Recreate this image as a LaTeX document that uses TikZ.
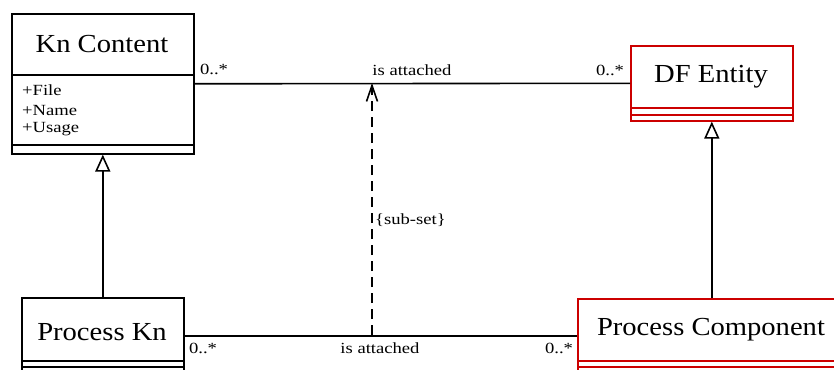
\documentclass[tikz,border=0pt]{standalone}
\usepackage{fontspec}
\setmainfont{Liberation Serif}
\newfontfamily\titlefont[FakeStretch=1.1]{Liberation Serif}
\newfontfamily\smallfont[FakeStretch=1.2]{Liberation Serif}
\usetikzlibrary{arrows.meta}
\definecolor{umlred}{RGB}{204,0,0}
\begin{document}
\begin{tikzpicture}[x=1pt,y=-1pt,
  box/.style={draw=black, line width=1.6pt, rectangle, inner sep=0pt},
  redbox/.style={box, draw=umlred},
  title/.style={font=\titlefont\fontsize{26}{30}\selectfont, inner sep=0pt},
  lbl/.style={font=\smallfont\fontsize{15.5}{18}\selectfont, inner sep=0pt},
  assoc/.style={line width=1.6pt},
  gen/.style={line width=1.6pt, -{Triangle[open, width=15pt, length=17pt]}},
  dep/.style={line width=1.6pt, dash pattern=on 10pt off 6pt, -{Straight Barb[width=11pt, length=16pt]}}
]
\useasboundingbox (0,0) rectangle (834,369);
\clip (0,0) rectangle (834,369);

% Kn Content
\node[box, minimum width=182pt, minimum height=140pt, anchor=north west] (kc) at (11,13) {};
\draw[box] (kc.north west) ++(0,62) -- ++(182,0);
\draw[box] (kc.north west) ++(0,132) -- ++(182,0);
\node[title] (kct) at (102,44) {Kn Content};
\node[lbl, anchor=west] (a1) at (22,90) {+File};
\node[lbl, anchor=west] (a2) at (22,110) {+Name};
\node[lbl, anchor=west] (a3) at (22,129) {+Usage};

% DF Entity
\node[redbox, minimum width=162pt, minimum height=75pt, anchor=north west] (df) at (630,45) {};
\draw[redbox] (df.north west) ++(0,63) -- ++(162,0);
\draw[redbox] (df.north west) ++(0,70) -- ++(162,0);
\node[title] (dft) at (711,77) {DF Entity};

% Process Kn
\node[box, minimum width=162pt, minimum height=76pt, anchor=north west] (pk) at (21,297) {};
\draw[box] (pk.north west) ++(0,64) -- ++(162,0);
\draw[box] (pk.north west) ++(0,70) -- ++(162,0);
\node[title] (pkt) at (102,332) {Process Kn};

% Process Component
\node[redbox, minimum width=268pt, minimum height=74pt, anchor=north west] (pc) at (577,298) {};
\draw[redbox] (pc.north west) ++(0,63) -- ++(268,0);
\draw[redbox] (pc.north west) ++(0,69) -- ++(268,0);
\node[title] (pct) at (711,330) {Process Component};

% connectors
\draw[assoc] (kc.east) -- (df.west);
\draw[assoc] (pk.east) -- (pc.west);
\draw[gen] (pk.north) -- (kc.south);
\draw[gen] (pc.north) -- (df.south);
\coordinate (lo) at (372,335);
\coordinate (hi) at (372,83);
\draw[dep] (lo) -- (hi);

% labels
\node[lbl] (m1) at (214,69) {0..*};
\node[lbl] (l1) at (412,70) {is attached};
\node[lbl] (m2) at (610,70) {0..*};
\node[lbl] (m3) at (203,348) {0..*};
\node[lbl] (l2) at (380,348) {is attached};
\node[lbl] (m4) at (559,348) {0..*};
\node[lbl, anchor=west] (ss) at (375,220) {\{sub-set\}};
\end{tikzpicture}
\end{document}
